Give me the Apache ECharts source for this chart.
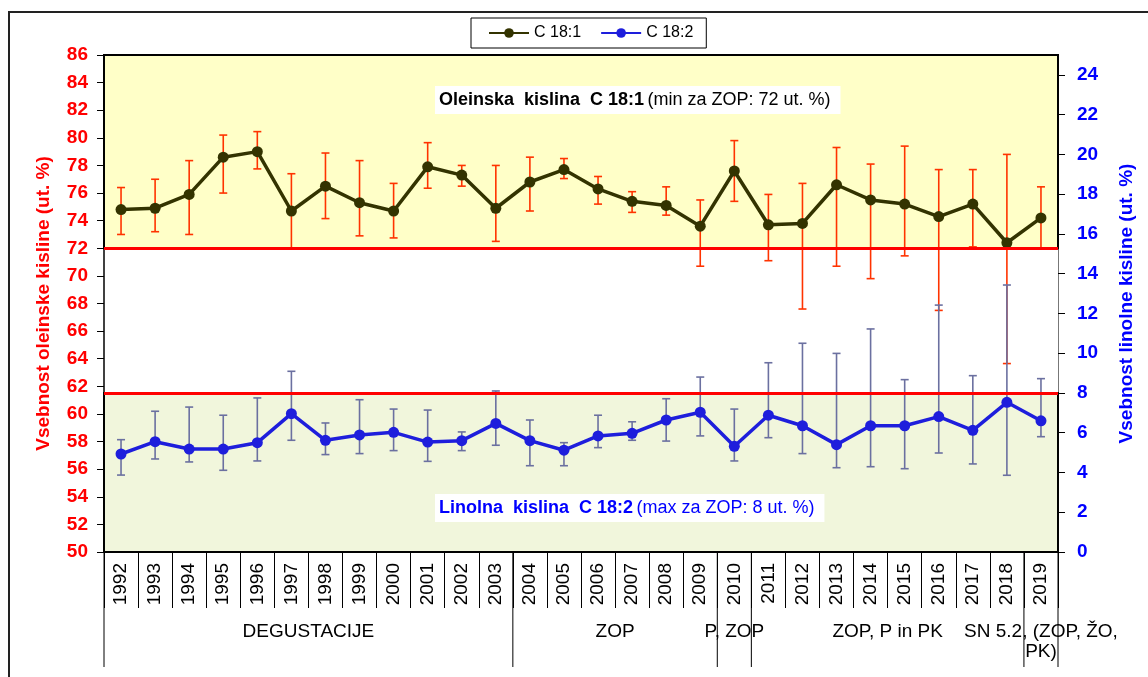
<!DOCTYPE html>
<html>
<head>
<meta charset="utf-8">
<script src="https://cdn.jsdelivr.net/npm/echarts@6/dist/echarts.min.js"></script>
<style>
  html, body { margin: 0; padding: 0; background: #fff; }
  #chart { width: 1148px; height: 677px; }
</style>
</head>
<body>
<div id="chart"></div>
<script>
// leta (kategorije)
var years = ['1992', '1993', '1994', '1995', '1996', '1997', '1998', '1999', '2000', '2001',
  '2002', '2003', '2004', '2005', '2006', '2007', '2008', '2009', '2010', '2011',
  '2012', '2013', '2014', '2015', '2016', '2017', '2018', '2019'];

// C 18:1 - oleinska kislina (leva os)
var oleic = [74.8, 74.9, 75.9, 78.6, 79.0, 74.7, 76.5, 75.3, 74.7, 77.9,
  77.3, 74.9, 76.8, 77.7, 76.3, 75.4, 75.1, 73.6, 77.6, 73.7,
  73.8, 76.6, 75.5, 75.2, 74.3, 75.2, 72.4, 74.2];
var oleicHigh = [76.4, 77.0, 78.35, 80.2, 80.45, 77.4, 78.9, 78.35, 76.7, 79.65,
  78.0, 78.0, 78.6, 78.5, 77.2, 76.1, 76.45, 75.5, 79.8, 75.9,
  76.7, 79.3, 78.1, 79.4, 77.7, 77.7, 78.8, 76.45];
var oleicLow = [73.0, 73.2, 73.0, 76.0, 77.75, 72.0, 74.15, 72.9, 72.75, 76.35,
  76.5, 72.5, 74.7, 77.05, 75.2, 74.6, 74.4, 70.7, 75.4, 71.1,
  67.6, 70.7, 69.8, 71.45, 67.5, 72.1, 63.65, 72.0];

// C 18:2 - linolna kislina (desna os)
var linoleic = [4.93, 5.55, 5.18, 5.18, 5.5, 6.96, 5.62, 5.89, 6.02, 5.53,
  5.6, 6.47, 5.6, 5.12, 5.84, 5.97, 6.64, 7.03, 5.32, 6.88,
  6.35, 5.4, 6.35, 6.35, 6.81, 6.12, 7.53, 6.6];
var linHigh = [5.65, 7.08, 7.29, 6.88, 7.75, 9.09, 6.49, 7.66, 7.19, 7.14,
  6.04, 8.1, 6.64, 5.5, 6.88, 6.55, 7.71, 8.8, 7.19, 9.52,
  10.5, 9.99, 11.22, 8.67, 12.42, 8.87, 13.43, 8.72];
var linLow = [3.87, 4.68, 4.53, 4.11, 4.58, 5.62, 4.9, 4.95, 5.1, 4.56,
  5.1, 5.37, 4.34, 4.34, 5.25, 5.62, 5.58, 5.84, 4.58, 5.75,
  4.95, 4.24, 4.29, 4.19, 4.98, 4.43, 3.86, 5.8];

// meje
var oleicMin = 72;
var linMax = 8;

// skupine pod osjo x (prvi in zadnji indeks leta)
var groupStart = [0, 12, 18, 19, 27];
var groupEnd = [11, 17, 18, 26, 27];
var groupLabels = ['DEGUSTACIJE', 'ZOP', 'P, ZOP', 'ZOP, P in PK', 'SN 5.2, (ZOP, ŽO,\nPK)'];

var FONT = 'Liberation Sans, Arial, sans-serif';

var chart = echarts.init(document.getElementById('chart'));

function errorBar(color) {
  return function (params, api) {
    var x = api.value(0);
    var lo = api.coord([x, api.value(1)]);
    var hi = api.coord([x, api.value(2)]);
    var w = 4;
    var st = { stroke: color, lineWidth: 1.6 };
    return {
      type: 'group',
      children: [
        { type: 'line', shape: { x1: lo[0], y1: lo[1], x2: hi[0], y2: hi[1] }, style: st },
        { type: 'line', shape: { x1: hi[0] - w, y1: hi[1], x2: hi[0] + w, y2: hi[1] }, style: st },
        { type: 'line', shape: { x1: lo[0] - w, y1: lo[1], x2: lo[0] + w, y2: lo[1] }, style: st }
      ]
    };
  };
}

var oleicErr = years.map(function (y, i) { return [i, oleicLow[i], oleicHigh[i]]; });
var linErr = years.map(function (y, i) { return [i, linLow[i], linHigh[i]]; });

var option = {
  animation: false,
  textStyle: { fontFamily: FONT },
  legend: {
    data: ['C 18:1', 'C 18:2'],
    left: 471,
    top: 18,
    padding: [7, 13, 7, 17],
    itemGap: 19,
    itemWidth: 40,
    itemHeight: 12,
    backgroundColor: '#fff',
    borderColor: '#000',
    borderWidth: 1,
    textStyle: { fontSize: 16, color: '#000', fontFamily: FONT }
  },
  grid: { left: 104, right: 90, top: 55, bottom: 125 },
  xAxis: {
    type: 'category',
    data: years,
    axisLine: { lineStyle: { color: '#000', width: 1.5 } },
    axisTick: { show: true, length: 56, lineStyle: { color: '#000' } },
    axisLabel: { rotate: 90, margin: 11, fontSize: 19, color: '#000', fontFamily: FONT }
  },
  yAxis: [
    {
      type: 'value',
      min: 50, max: 86, interval: 2,
      name: 'Vsebnost oleinske kisline (ut. %)',
      nameLocation: 'middle',
      nameGap: 51,
      nameTextStyle: { color: '#ff0000', fontWeight: 'bold', fontSize: 19, fontFamily: FONT },
      axisLine: { show: true, lineStyle: { color: '#000', width: 1.5 } },
      axisTick: { show: true, length: 7, lineStyle: { color: '#000' } },
      axisLabel: { color: '#ff0000', fontWeight: 'bold', fontSize: 19, margin: 16, fontFamily: FONT },
      splitLine: { show: false }
    },
    {
      type: 'value',
      min: 0, max: 25, interval: 2,
      name: 'Vsebnost linolne kisline (ut. %)',
      nameLocation: 'middle',
      nameGap: 59,
      nameTextStyle: { color: '#0000ff', fontWeight: 'bold', fontSize: 19, fontFamily: FONT },
      axisLine: { show: true, lineStyle: { color: '#777', width: 1 } },
      axisTick: { show: true, length: 7, lineStyle: { color: '#000' } },
      axisLabel: { color: '#0000ff', fontWeight: 'bold', fontSize: 19, margin: 19, showMaxLabel: false, fontFamily: FONT },
      splitLine: { show: false }
    }
  ],
  series: [
    {
      name: 'err181',
      type: 'custom',
      yAxisIndex: 0,
      z: 2,
      renderItem: errorBar('#ff3300'),
      encode: { x: 0, y: [1, 2] },
      data: oleicErr
    },
    {
      name: 'err182',
      type: 'custom',
      yAxisIndex: 1,
      z: 2,
      renderItem: errorBar('#6b70a0'),
      encode: { x: 0, y: [1, 2] },
      data: linErr
    },
    {
      name: 'C 18:1',
      type: 'line',
      yAxisIndex: 0,
      z: 4,
      data: oleic,
      symbol: 'circle',
      symbolSize: 11,
      itemStyle: { color: '#333300' },
      lineStyle: { color: '#333300', width: 3.5 },
      markArea: {
        silent: true,
        itemStyle: { color: '#ffffc8', borderColor: '#000', borderWidth: 2 },
        data: [[{ yAxis: oleicMin }, { yAxis: 86 }]]
      },
      markLine: {
        silent: true,
        symbol: 'none',
        label: { show: false },
        lineStyle: { color: '#ff0000', width: 3, type: 'solid' },
        data: [{ yAxis: oleicMin }]
      }
    },
    {
      name: 'C 18:2',
      type: 'line',
      yAxisIndex: 1,
      z: 4,
      data: linoleic,
      symbol: 'circle',
      symbolSize: 11,
      itemStyle: { color: '#1e1edc' },
      lineStyle: { color: '#1e1edc', width: 3.5 },
      markArea: {
        silent: true,
        itemStyle: { color: '#f1f6dc', borderColor: '#000', borderWidth: 2 },
        data: [[{ yAxis: 0 }, { yAxis: linMax }]]
      },
      markLine: {
        silent: true,
        symbol: 'none',
        label: { show: false },
        lineStyle: { color: '#ff0000', width: 3, type: 'solid' },
        data: [{ yAxis: linMax }]
      }
    }
  ]
};

chart.setOption(option);

// okvir, napisi in skupine pod osjo
var graphics = [
  {
    type: 'rect',
    shape: { x: 9, y: 12, width: 1200, height: 720 },
    style: { fill: 'none', stroke: '#222', lineWidth: 2 },
    z: 0
  },
  {
    type: 'text',
    x: 435, y: 86,
    z: 20,
    style: {
      text: '{b|Oleinska  kislina  C 18:1} {n|(min za ZOP: 72 ut. %)}',
      rich: {
        b: { fontWeight: 'bold', fontSize: 18, fill: '#000', fontFamily: FONT },
        n: { fontSize: 18, fill: '#000', fontFamily: FONT }
      },
      backgroundColor: '#fff',
      padding: [5, 10, 5, 4]
    }
  },
  {
    type: 'text',
    x: 435, y: 494,
    z: 20,
    style: {
      text: '{b|Linolna  kislina  C 18:2} {n|(max za ZOP: 8 ut. %)}',
      rich: {
        b: { fontWeight: 'bold', fontSize: 18, fill: '#0000ff', fontFamily: FONT },
        n: { fontSize: 18, fill: '#0000ff', fontFamily: FONT }
      },
      backgroundColor: '#fff',
      padding: [5, 10, 5, 4]
    }
  }
];

var c0 = chart.convertToPixel({ xAxisIndex: 0 }, 0);
var c1 = chart.convertToPixel({ xAxisIndex: 0 }, 1);
var half = (c1 - c0) / 2;
var axisY = chart.convertToPixel({ yAxisIndex: 0 }, 50);
var boundaries = {};
groupStart.forEach(function (s, g) {
  var xl = chart.convertToPixel({ xAxisIndex: 0 }, s) - half;
  var xr = chart.convertToPixel({ xAxisIndex: 0 }, groupEnd[g]) + half;
  boundaries[Math.round(xl)] = xl;
  boundaries[Math.round(xr)] = xr;
  graphics.push({
    type: 'text',
    x: (xl + xr) / 2,
    y: axisY + 70,
    z: 20,
    style: {
      text: groupLabels[g],
      fontSize: 19,
      fontFamily: FONT,
      fill: '#000',
      align: 'center',
      verticalAlign: 'top',
      lineHeight: 20
    }
  });
});
Object.keys(boundaries).forEach(function (k) {
  var bx = boundaries[k];
  graphics.push({
    type: 'line',
    z: 19,
    shape: { x1: bx, y1: axisY, x2: bx, y2: axisY + 115 },
    style: { stroke: '#000', lineWidth: 1 }
  });
});

chart.setOption({ graphic: graphics });

window.onresize = function () {
  chart.resize();
};
</script>
</body>
</html>
